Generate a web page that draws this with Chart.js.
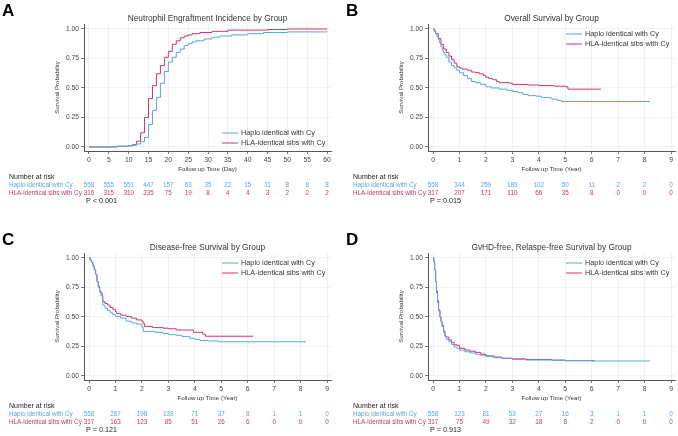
<!DOCTYPE html>
<html>
<head>
<meta charset="utf-8">
<script src="https://cdn.jsdelivr.net/npm/chart.js@4.4.1/dist/chart.umd.min.js"></script>
<style>
  body { margin: 0; background: #fff; width: 678px; height: 436px; position: relative; overflow: hidden; }
  .panel { position: absolute; width: 334px; height: 208px; }
</style>
</head>
<body>
<div class="panel" style="left:0;top:0"><canvas id="chartA" width="334" height="208"></canvas></div>
<div class="panel" style="left:344px;top:0"><canvas id="chartB" width="334" height="208"></canvas></div>
<div class="panel" style="left:0;top:229px"><canvas id="chartC" width="334" height="208"></canvas></div>
<div class="panel" style="left:344px;top:229px"><canvas id="chartD" width="334" height="208"></canvas></div>
<script>
const FONT = '"Liberation Sans", Arial, sans-serif';
const C_HAPLO = '#56A8E2';
const C_HLA = '#C8376D';
const groups = ['Haplo identical with Cy', 'HLA-identical sibs with Cy'];
const survTicks = [0, 0.25, 0.5, 0.75, 1];
const dayTicks = [0, 5, 10, 15, 20, 25, 30, 35, 40, 45, 50, 55, 60];
const yearTicks = [0, 1, 2, 3, 4, 5, 6, 7, 8, 9];

// A - neutrophil engraftment (cumulative, days)
const engTimeHaplo = [0, 7, 10, 11, 12, 13, 14, 15, 16, 17, 18, 19, 20, 21, 22, 23, 24, 25, 26, 27, 29, 31, 33, 36, 40, 44, 50, 60];
const engHaplo = [0, 0.005, 0.01, 0.015, 0.025, 0.045, 0.08, 0.19, 0.31, 0.42, 0.54, 0.64, 0.72, 0.76, 0.80, 0.83, 0.86, 0.875, 0.89, 0.90, 0.915, 0.93, 0.94, 0.95, 0.96, 0.97, 0.975, 0.978];
const engTimeHla = [0, 7, 10, 11, 12, 13, 14, 15, 16, 17, 18, 19, 20, 21, 22, 23, 24, 25, 26, 28, 31, 35, 45, 50, 60];
const engHla = [0, 0.007, 0.01, 0.02, 0.05, 0.12, 0.25, 0.41, 0.52, 0.62, 0.69, 0.76, 0.81, 0.87, 0.90, 0.925, 0.94, 0.95, 0.96, 0.97, 0.98, 0.99, 0.995, 1.0, 1.0];
const engRiskHaplo = [558, 555, 551, 447, 157, 63, 35, 22, 15, 11, 8, 8, 8];
const engRiskHla = [316, 315, 310, 235, 75, 19, 8, 4, 4, 3, 2, 2, 2];

// B - overall survival (years)
const osTimeHaplo = [0, 0.05, 0.1, 0.15, 0.2, 0.25, 0.3, 0.35, 0.4, 0.45, 0.5, 0.6, 0.7, 0.8, 0.9, 1.0, 1.15, 1.3, 1.45, 1.6, 1.8, 2.0, 2.2, 2.5, 2.8, 3.0, 3.2, 3.4, 3.6, 3.9, 4.1, 4.4, 4.5, 4.7, 4.85, 8.2];
const osHaplo = [1, 0.98, 0.96, 0.94, 0.91, 0.88, 0.85, 0.82, 0.80, 0.78, 0.76, 0.72, 0.69, 0.67, 0.65, 0.63, 0.605, 0.58, 0.555, 0.545, 0.53, 0.51, 0.50, 0.49, 0.48, 0.47, 0.46, 0.445, 0.435, 0.43, 0.42, 0.415, 0.405, 0.395, 0.385, 0.385];
const osTimeHla = [0, 0.05, 0.1, 0.2, 0.3, 0.4, 0.5, 0.6, 0.7, 0.8, 0.9, 1.0, 1.1, 1.3, 1.45, 1.6, 1.75, 1.9, 2.0, 2.1, 2.25, 2.4, 2.5, 2.9, 3.0, 3.6, 4.0, 4.6, 5.0, 5.1, 6.35];
const osHla = [1, 0.985, 0.96, 0.92, 0.87, 0.83, 0.80, 0.77, 0.74, 0.71, 0.68, 0.67, 0.66, 0.65, 0.635, 0.63, 0.62, 0.605, 0.59, 0.58, 0.57, 0.555, 0.545, 0.54, 0.53, 0.525, 0.52, 0.515, 0.51, 0.49, 0.49];
const osRiskHaplo = [558, 344, 259, 189, 102, 50, 11, 2, 2, 0];
const osRiskHla = [317, 207, 171, 110, 66, 35, 8, 0, 0, 0];

// C - disease-free survival
const dfsTimeHaplo = [0, 0.05, 0.1, 0.15, 0.2, 0.25, 0.3, 0.35, 0.4, 0.45, 0.5, 0.52, 0.6, 0.7, 0.8, 0.9, 1.0, 1.2, 1.4, 1.6, 1.8, 2.0, 2.05, 2.5, 2.8, 3.0, 3.3, 3.5, 3.8, 4.0, 4.2, 4.5, 4.9, 8.2];
const dfsHaplo = [1, 0.98, 0.96, 0.93, 0.90, 0.86, 0.80, 0.75, 0.71, 0.68, 0.66, 0.60, 0.575, 0.555, 0.535, 0.52, 0.505, 0.49, 0.465, 0.45, 0.44, 0.415, 0.378, 0.37, 0.36, 0.35, 0.345, 0.335, 0.32, 0.31, 0.30, 0.297, 0.29, 0.29];
const dfsTimeHla = [0, 0.05, 0.1, 0.15, 0.2, 0.25, 0.3, 0.35, 0.4, 0.45, 0.5, 0.52, 0.6, 0.7, 0.8, 0.9, 1.0, 1.05, 1.2, 1.4, 1.6, 1.8, 2.0, 2.05, 2.1, 2.4, 2.8, 3.0, 3.3, 3.95, 4.3, 4.4, 6.2];
const dfsHla = [1, 0.98, 0.96, 0.93, 0.90, 0.86, 0.80, 0.76, 0.72, 0.70, 0.68, 0.63, 0.615, 0.60, 0.58, 0.565, 0.545, 0.53, 0.515, 0.505, 0.49, 0.475, 0.46, 0.445, 0.42, 0.41, 0.405, 0.40, 0.39, 0.37, 0.355, 0.337, 0.337];
const dfsRiskHaplo = [558, 267, 198, 139, 71, 37, 8, 1, 1, 0];
const dfsRiskHla = [317, 163, 123, 85, 51, 26, 6, 0, 0, 0];

// D - GvHD-free, relapse-free survival
const grfsTimeHaplo = [0, 0.03, 0.06, 0.1, 0.13, 0.17, 0.21, 0.26, 0.3, 0.34, 0.4, 0.45, 0.5, 0.6, 0.7, 0.8, 0.9, 1.0, 1.2, 1.4, 1.6, 1.8, 2.0, 2.3, 2.6, 3.0, 3.5, 4.5, 5.0, 6.0, 8.2];
const grfsHaplo = [1, 0.97, 0.90, 0.80, 0.70, 0.62, 0.55, 0.50, 0.46, 0.42, 0.37, 0.335, 0.31, 0.29, 0.265, 0.245, 0.235, 0.22, 0.205, 0.195, 0.185, 0.175, 0.165, 0.155, 0.15, 0.14, 0.135, 0.132, 0.13, 0.127, 0.125];
const grfsTimeHla = [0, 0.03, 0.06, 0.1, 0.13, 0.17, 0.21, 0.26, 0.3, 0.34, 0.4, 0.45, 0.5, 0.6, 0.7, 0.8, 0.9, 1.0, 1.2, 1.4, 1.6, 1.8, 2.0, 2.3, 2.6, 3.0, 3.5, 4.5, 5.0, 6.1];
const grfsHla = [1, 0.97, 0.90, 0.80, 0.72, 0.64, 0.56, 0.50, 0.46, 0.43, 0.38, 0.34, 0.33, 0.305, 0.285, 0.265, 0.26, 0.235, 0.22, 0.21, 0.20, 0.185, 0.17, 0.16, 0.15, 0.145, 0.14, 0.135, 0.13, 0.13];
const grfsRiskHaplo = [558, 123, 81, 53, 27, 16, 3, 1, 1, 0];
const grfsRiskHla = [317, 75, 49, 32, 18, 8, 2, 0, 0, 0];

function pts(t, v) {
  return t.map((x, i) => ({ x: x, y: v[i] }));
}

// letter, title, legend, number-at-risk table and p value
function decor(p) {
  return {
    id: 'kmDecor',
    afterDraw(chart) {
      const ctx = chart.ctx;
      const area = chart.chartArea;
      const x = chart.scales.x;
      ctx.save();
      ctx.textBaseline = 'middle';

      ctx.fillStyle = '#000';
      ctx.font = 'bold 17px ' + FONT;
      ctx.textAlign = 'left';
      ctx.fillText(p.letter, 2, 11);

      ctx.fillStyle = '#333';
      ctx.font = '8.3px ' + FONT;
      ctx.textAlign = 'center';
      ctx.fillText(p.title, (area.left + area.right) / 2, 19);

      // legend
      ctx.font = '7.3px ' + FONT;
      ctx.textAlign = 'left';
      [C_HAPLO, C_HLA].forEach((c, i) => {
        const y = p.legendY[i];
        ctx.strokeStyle = c;
        ctx.lineWidth = 1;
        ctx.beginPath();
        ctx.moveTo(222, y);
        ctx.lineTo(238, y);
        ctx.stroke();
        ctx.fillStyle = '#333';
        ctx.fillText(groups[i], 241, y);
      });

      // risk table
      ctx.fillStyle = '#222';
      ctx.font = '7px ' + FONT;
      ctx.fillText('Number at risk', 9, 177);
      ctx.font = '6.3px ' + FONT;
      [[p.risk1, C_HAPLO, 185], [p.risk2, C_HLA, 193]].forEach((row, i) => {
        ctx.fillStyle = row[1];
        ctx.textAlign = 'left';
        ctx.fillText(groups[i], 9, row[2]);
        ctx.textAlign = 'center';
        row[0].forEach((n, j) => {
          ctx.fillText(String(n), x.getPixelForValue(p.xTicks[j]), row[2]);
        });
      });

      ctx.fillStyle = '#222';
      ctx.font = '7.2px ' + FONT;
      ctx.textAlign = 'left';
      ctx.fillText(p.pText, 86, 201);
      ctx.restore();
    }
  };
}

function panel(id, p) {
  const line = (label, data, color) => ({
    label: label,
    data: data,
    borderColor: color,
    backgroundColor: color,
    borderWidth: 1,
    pointRadius: 0,
    stepped: true,
    fill: false
  });
  new Chart(document.getElementById(id), {
    type: 'line',
    data: {
      datasets: [
        line(groups[0], pts(p.t1, p.v1), C_HAPLO),
        line(groups[1], pts(p.t2, p.v2), C_HLA)
      ]
    },
    options: {
      responsive: false,
      animation: false,
      layout: { padding: { top: 24, right: 3, bottom: 33, left: 0 } },
      plugins: { legend: { display: false }, title: { display: false }, tooltip: { enabled: false } },
      scales: {
        x: {
          type: 'linear',
          min: p.xMin,
          max: p.xMax,
          afterBuildTicks: s => { s.ticks = p.xTicks.map(v => ({ value: v })); },
          afterFit: s => { s.height = 24; },
          ticks: { font: { family: FONT, size: 6.8 }, color: '#444', padding: 2, maxRotation: 0, autoSkip: false },
          grid: { color: '#ececec', lineWidth: 0.7, tickColor: '#555', tickLength: 3, tickWidth: 0.8 },
          border: { color: '#555', width: 1 },
          title: { display: true, text: p.xTitle, font: { family: FONT, size: 6.2 }, color: '#333', padding: { top: 0, bottom: 1.5 } }
        },
        y: {
          min: -0.034,
          max: 1.042,
          afterBuildTicks: s => { s.ticks = survTicks.map(v => ({ value: v })); },
          afterFit: s => { s.width = 84; },
          ticks: { callback: v => Number(v).toFixed(2), font: { family: FONT, size: 6.7 }, color: '#444', padding: 2 },
          grid: { color: '#ececec', lineWidth: 0.7, tickColor: '#555', tickLength: 3, tickWidth: 0.8 },
          border: { color: '#555', width: 1 },
          title: { display: true, text: 'Survival Probability', font: { family: FONT, size: 6.2 }, color: '#333', padding: { top: 53.3, bottom: 0 } }
        }
      }
    },
    plugins: [decor(p)]
  });
}

panel('chartA', {
  letter: 'A', title: 'Neutrophil Engraftment Incidence by Group', xTitle: 'Follow up Time (Day)',
  xMin: -1.26, xMax: 61, xTicks: dayTicks,
  t1: engTimeHaplo, v1: engHaplo, t2: engTimeHla, v2: engHla,
  risk1: engRiskHaplo, risk2: engRiskHla, pText: 'P < 0.001', legendY: [133, 143]
});
panel('chartB', {
  letter: 'B', title: 'Overall Survival by Group', xTitle: 'Follow up Time (Year)',
  xMin: -0.19, xMax: 9.15, xTicks: yearTicks,
  t1: osTimeHaplo, v1: osHaplo, t2: osTimeHla, v2: osHla,
  risk1: osRiskHaplo, risk2: osRiskHla, pText: 'P = 0.015', legendY: [34, 44]
});
panel('chartC', {
  letter: 'C', title: 'Disease-free Survival by Group', xTitle: 'Follow up Time (Year)',
  xMin: -0.19, xMax: 9.15, xTicks: yearTicks,
  t1: dfsTimeHaplo, v1: dfsHaplo, t2: dfsTimeHla, v2: dfsHla,
  risk1: dfsRiskHaplo, risk2: dfsRiskHla, pText: 'P = 0.121', legendY: [34, 44]
});
panel('chartD', {
  letter: 'D', title: 'GvHD-free, Relaspe-free Survival by Group', xTitle: 'Follow up Time (Year)',
  xMin: -0.19, xMax: 9.15, xTicks: yearTicks,
  t1: grfsTimeHaplo, v1: grfsHaplo, t2: grfsTimeHla, v2: grfsHla,
  risk1: grfsRiskHaplo, risk2: grfsRiskHla, pText: 'P = 0.913', legendY: [34, 44]
});
</script>
</body>
</html>
